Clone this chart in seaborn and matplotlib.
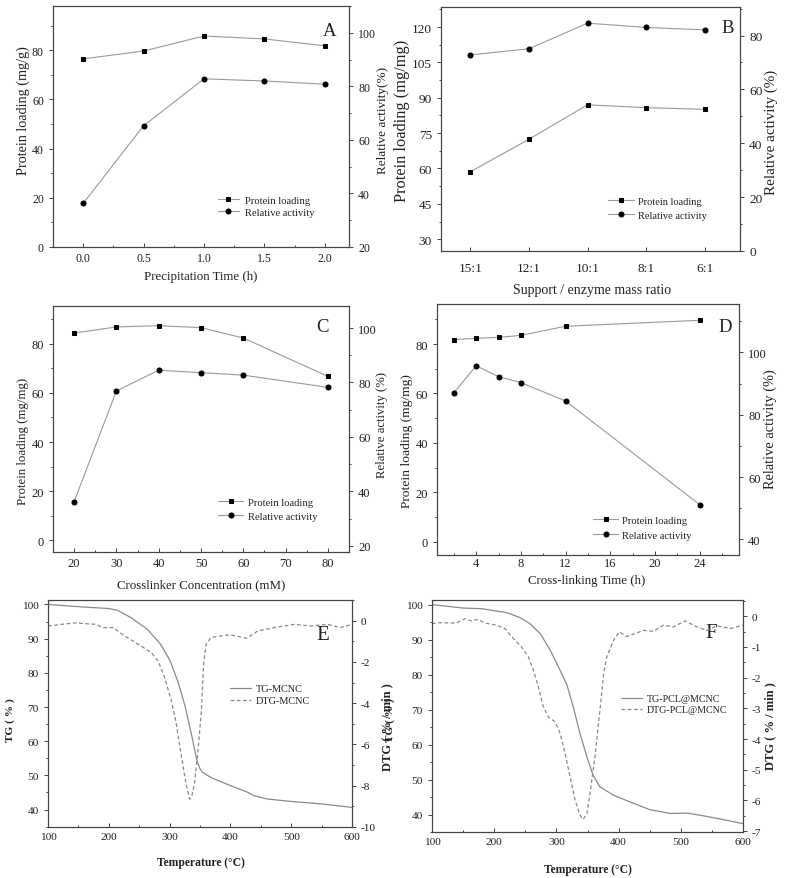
import numpy as np
import pandas as pd
import matplotlib
matplotlib.use('Agg')
import matplotlib.pyplot as plt
from matplotlib.ticker import MultipleLocator, AutoMinorLocator
import seaborn as sns

sns.set_style('ticks')
plt.rcParams['font.family'] = ['Liberation Serif', 'DejaVu Serif']
plt.rcParams['axes.unicode_minus'] = False

# ---------------- data ----------------
# A - precipitation time
precip_time = [0.0, 0.5, 1.0, 1.5, 2.0]
precip_loading = [76.5, 79.7, 85.8, 84.6, 81.8]
precip_activity = [36.3, 65.3, 82.8, 82.0, 80.8]

# B - support / enzyme mass ratio
mass_ratio = ['15:1', '12:1', '10:1', '8:1', '6:1']
ratio_loading = [58.6, 72.4, 87.0, 85.8, 85.1]
ratio_activity = [72.8, 75.1, 84.6, 83.0, 82.1]

# C - crosslinker concentration
crosslinker_conc = [20, 30, 40, 50, 60, 80]
conc_loading = [84.3, 86.8, 87.3, 86.5, 82.3, 66.7]
conc_activity = [36.2, 76.9, 84.5, 83.6, 82.7, 78.2]

# D - cross-linking time
crosslink_time = [2, 4, 6, 8, 12, 24]
time_loading = [81.8, 82.3, 82.7, 83.5, 87.2, 89.6]
time_activity = [87.0, 95.7, 92.2, 90.3, 84.4, 51.1]

# E - TG / DTG of MCNC
tg_mcnc_t = [100, 154, 200, 214, 236, 263, 285, 301, 315, 326, 337, 345, 350,
             354, 367, 373, 400, 428, 438, 460, 498, 547, 597, 600]
tg_mcnc = [100, 99.3, 98.8, 98.3, 96.2, 92.8, 88.4, 83.5, 76.7, 69.9, 61.1, 54.3, 51.9,
           50.9, 49.5, 49.0, 47.0, 45.1, 44.1, 43.1, 42.4, 41.7, 40.7, 40.6]
dtg_mcnc_t = [100, 122, 144, 179, 190, 207, 226, 253, 270, 281, 292, 303, 311, 319,
              327, 333, 336, 341, 346, 352, 356, 360, 368, 390, 400, 427, 445, 472,
              505, 532, 560, 581, 600]
dtg_mcnc = [-0.26, -0.18, -0.11, -0.18, -0.34, -0.34, -0.74, -1.23, -1.55, -1.95, -2.76,
            -3.9, -5.0, -6.5, -7.9, -8.65, -8.56, -7.9, -6.5, -4.5, -2.1, -1.15, -0.82,
            -0.71, -0.69, -0.85, -0.5, -0.34, -0.18, -0.26, -0.18, -0.34, -0.18]

# F - TG / DTG of PCL@MCNC
tg_pcl_t = [100, 150, 180, 220, 241, 257, 274, 290, 306, 317, 327, 338, 349, 359,
            370, 392, 420, 450, 483, 510, 531, 558, 600]
tg_pcl = [100, 99.0, 98.8, 97.7, 96.3, 94.6, 91.7, 87.0, 81.2, 77.0, 70.8, 63.1, 56.5,
          51.2, 47.9, 45.5, 43.5, 41.4, 40.3, 40.4, 39.8, 38.9, 37.4]
dtg_pcl_t = [100, 112, 139, 153, 163, 174, 185, 204, 217, 231, 244, 255, 263, 271,
             279, 287, 298, 306, 314, 322, 330, 338, 343, 349, 354, 362, 370, 376,
             381, 392, 401, 413, 427, 440, 456, 472, 488, 507, 526, 542, 558, 580, 600]
dtg_pcl = [-0.24, -0.21, -0.22, -0.08, -0.15, -0.10, -0.22, -0.29, -0.40, -0.73, -1.0,
           -1.32, -1.76, -2.3, -2.95, -3.28, -3.44, -3.82, -4.47, -5.23, -5.99, -6.48,
           -6.62, -6.43, -5.78, -4.58, -3.06, -1.87, -1.32, -0.78, -0.51, -0.66, -0.56,
           -0.46, -0.49, -0.29, -0.35, -0.15, -0.35, -0.46, -0.31, -0.40, -0.29]

# ---------------- figure ----------------
W, H = 787, 879
fig = plt.figure(figsize=(W / 100, H / 100), dpi=100)

TXT = '#222222'
LINE = '#9a9a9a'
SPINE = '#444444'


def px_axes(l, t, r, b):
    return fig.add_axes([l / W, 1 - b / H, (r - l) / W, (b - t) / H])


def style(ax, ax2, tick_size):
    for a in (ax, ax2):
        for s in a.spines.values():
            s.set_color(SPINE)
            s.set_linewidth(0.8)
        a.tick_params(axis='x', which='both', direction='in', colors=SPINE,
                      labelcolor=TXT, labelsize=tick_size, width=0.7)
        a.tick_params(axis='y', which='both', direction='out', colors=SPINE,
                      labelcolor=TXT, labelsize=tick_size, width=0.7)
        a.tick_params(which='major', length=3)
        a.tick_params(which='minor', length=1.6)
        a.yaxis.set_minor_locator(AutoMinorLocator(2))
        if a.get_legend():
            a.get_legend().remove()


def labels(ax, ax2, xl, yl, yr, sizes, xpos, ypos_l, ypos_r, weight='normal'):
    ax.set_xlabel(xl, fontsize=sizes[0], color=TXT, fontweight=weight)
    ax.set_ylabel(yl, fontsize=sizes[1], color=TXT, fontweight=weight)
    ax2.set_ylabel(yr, fontsize=sizes[2], color=TXT, fontweight=weight)
    ax.xaxis.set_label_coords(*xpos)
    ax.yaxis.set_label_coords(*ypos_l)
    ax2.yaxis.set_label_coords(*ypos_r)
    for lab in (ax.xaxis.label, ax.yaxis.label, ax2.yaxis.label):
        lab.set_verticalalignment('center')


def legend(ax, ax2, anchor, size, hl, htp, ls):
    h1, l1 = ax.get_legend_handles_labels()
    h2, l2 = ax2.get_legend_handles_labels()
    leg = ax2.legend(h1 + h2, l1 + l2, loc='center left', bbox_to_anchor=anchor,
                     frameon=False, fontsize=size, handlelength=hl, handletextpad=htp,
                     labelspacing=ls, borderpad=0, borderaxespad=0)
    for t in leg.get_texts():
        t.set_color(TXT)


mk_sq = dict(marker='s', markersize=3.4, markerfacecolor='black', markeredgecolor='black')
mk_ci = dict(marker='o', markersize=3.6, markerfacecolor='black', markeredgecolor='black')

# ---- A ----
ax = px_axes(53, 7, 349, 248)
ax2 = ax.twinx()
sns.lineplot(x=precip_time, y=precip_loading, ax=ax, color=LINE, lw=0.8,
             label='Protein loading', **mk_sq)
sns.lineplot(x=precip_time, y=precip_activity, ax=ax2, color=LINE, lw=0.8,
             label='Relative activity', **mk_ci)
ax.set_xlim(-0.25, 2.2)
ax.set_ylim(0, 98)
ax2.set_ylim(20, 110)
ax.xaxis.set_major_locator(MultipleLocator(0.5))
ax.xaxis.set_minor_locator(AutoMinorLocator(2))
ax.set_xticklabels([f'{v:.1f}' for v in ax.get_xticks()])
ax.yaxis.set_major_locator(MultipleLocator(20))
ax2.yaxis.set_major_locator(MultipleLocator(20))
style(ax, ax2, 8.6)
labels(ax, ax2, 'Precipitation Time (h)', 'Protein loading (mg/g)', 'Relative activity(%)',
       (9.3, 10.2, 9.5), (0.5, -0.119), (-0.1, 0.57), (1.115, 0.53))
legend(ax, ax2, (0.557, 0.170), 7.6, 2.0, 0.6, 0.25)
ax.text(0.936, 0.90, 'A', transform=ax.transAxes, fontsize=13.5, color=TXT,
        ha='center', va='center')

# ---- B ----
ax = px_axes(441, 8, 740, 252)
ax2 = ax.twinx()
sns.lineplot(x=mass_ratio, y=ratio_loading, ax=ax, color=LINE, lw=0.8, sort=False,
             label='Protein loading', **mk_sq)
sns.lineplot(x=mass_ratio, y=ratio_activity, ax=ax2, color=LINE, lw=0.8, sort=False,
             label='Relative activity', **mk_ci)
ax.set_xlim(-0.5, 4.6)
ax.set_ylim(25, 128.5)
ax2.set_ylim(0, 90.6)
ax.yaxis.set_major_locator(MultipleLocator(15))
ax2.yaxis.set_major_locator(MultipleLocator(20))
style(ax, ax2, 9.6)
ax.xaxis.set_minor_locator(plt.NullLocator())
ax.tick_params(axis='x', pad=8)
labels(ax, ax2, 'Support / enzyme mass ratio', 'Protein loading (mg/mg)', 'Relative activity (%)',
       (10, 11.8, 10.8), (0.504, -0.156), (-0.13, 0.537), (1.103, 0.49))
legend(ax, ax2, (0.559, 0.175), 7.5, 2.5, 0.35, 0.45)
ax.text(0.959, 0.917, 'B', transform=ax.transAxes, fontsize=13.5, color=TXT,
        ha='center', va='center')

# ---- C ----
ax = px_axes(53, 307, 349, 553)
ax2 = ax.twinx()
sns.lineplot(x=crosslinker_conc, y=conc_loading, ax=ax, color=LINE, lw=0.8,
             label='Protein loading', **mk_sq)
sns.lineplot(x=crosslinker_conc, y=conc_activity, ax=ax2, color=LINE, lw=0.8,
             label='Relative activity', **mk_ci)
ax.set_xlim(15, 85)
ax.set_ylim(-4.7, 95.3)
ax2.set_ylim(17.7, 108.1)
ax.xaxis.set_major_locator(MultipleLocator(10))
ax.xaxis.set_minor_locator(AutoMinorLocator(2))
ax.yaxis.set_major_locator(MultipleLocator(20))
ax2.yaxis.set_major_locator(MultipleLocator(20))
style(ax, ax2, 9)
labels(ax, ax2, 'Crosslinker Concentration (mM)', 'Protein loading (mg/mg)', 'Relative activity (%)',
       (9.3, 9.3, 9.2), (0.5, -0.13), (-0.101, 0.452), (1.111, 0.52))
legend(ax, ax2, (0.557, 0.174), 7.6, 2.4, 0.5, 0.4)
ax.text(0.912, 0.915, 'C', transform=ax.transAxes, fontsize=13.5, color=TXT,
        ha='center', va='center')

# ---- D ----
ax = px_axes(437, 305, 739, 556)
ax2 = ax.twinx()
sns.lineplot(x=crosslink_time, y=time_loading, ax=ax, color=LINE, lw=0.8,
             label='Protein loading', **mk_sq)
sns.lineplot(x=crosslink_time, y=time_activity, ax=ax2, color=LINE, lw=0.8,
             label='Relative activity', **mk_ci)
ax.set_xlim(0.5, 27.5)
ax.set_ylim(-5.4, 96.2)
ax2.set_ylim(35, 115.5)
ax.xaxis.set_major_locator(MultipleLocator(4))
ax.xaxis.set_minor_locator(AutoMinorLocator(2))
ax.yaxis.set_major_locator(MultipleLocator(20))
ax2.yaxis.set_major_locator(MultipleLocator(20))
style(ax, ax2, 9)
ax.tick_params(axis='x', pad=1.5)
labels(ax, ax2, 'Cross-linking Time (h)', 'Protein loading (mg/mg)', 'Relative activity (%)',
       (9.3, 9.7, 10.4), (0.496, -0.1), (-0.099, 0.459), (1.103, 0.506))
legend(ax, ax2, (0.517, 0.109), 7.6, 2.4, 0.3, 0.55)
ax.text(0.954, 0.912, 'D', transform=ax.transAxes, fontsize=13.5, color=TXT,
        ha='center', va='center')

# ---- E ----
ax = px_axes(48, 601, 352, 828)
ax2 = ax.twinx()
sns.lineplot(x=tg_mcnc_t, y=tg_mcnc, ax=ax, color='#8a8a8a', lw=0.9, label='TG-MCNC')
sns.lineplot(x=dtg_mcnc_t, y=dtg_mcnc, ax=ax2, color='#8a8a8a', lw=0.9,
             linestyle=(0, (3, 2)), label='DTG-MCNC')
ax.set_xlim(100, 600)
ax.set_ylim(34.9, 101.3)
ax2.set_ylim(-10, 1)
ax.xaxis.set_major_locator(MultipleLocator(100))
ax.xaxis.set_minor_locator(AutoMinorLocator(2))
ax.yaxis.set_major_locator(MultipleLocator(10))
ax2.yaxis.set_major_locator(MultipleLocator(2))
style(ax, ax2, 8.2)
labels(ax, ax2, 'Temperature (°C)', 'TG ( % )', 'DTG ( % / min )',
       (8.4, 8.2, 9), (0.502, -0.154), (-0.125, 0.477), (1.115, 0.446), weight='bold')
legend(ax, ax2, (0.599, 0.583), 7.4, 2.0, 0.5, 0.3)
ax.text(0.904, 0.846, 'E', transform=ax.transAxes, fontsize=15, color=TXT,
        ha='center', va='center')

# ---- F ----
ax = px_axes(432, 601, 743, 833)
ax2 = ax.twinx()
sns.lineplot(x=tg_pcl_t, y=tg_pcl, ax=ax, color='#8a8a8a', lw=0.9, label='TG-PCL@MCNC')
sns.lineplot(x=dtg_pcl_t, y=dtg_pcl, ax=ax2, color='#8a8a8a', lw=0.9,
             linestyle=(0, (3, 2)), label='DTG-PCL@MCNC')
ax.set_xlim(100, 600)
ax.set_ylim(35, 101.3)
ax2.set_ylim(-7.03, 0.53)
ax.xaxis.set_major_locator(MultipleLocator(100))
ax.xaxis.set_minor_locator(AutoMinorLocator(2))
ax.yaxis.set_major_locator(MultipleLocator(10))
ax2.yaxis.set_major_locator(MultipleLocator(1))
style(ax, ax2, 8.2)
labels(ax, ax2, 'Temperature (°C)', 'TG ( % )', 'DTG ( % / min )',
       (8.4, 8.2, 9), (0.503, -0.159), (-0.135, 0.488), (1.087, 0.462), weight='bold')
legend(ax, ax2, (0.608, 0.55), 7.2, 2.1, 0.5, 0.2)
ax.text(0.899, 0.858, 'F', transform=ax.transAxes, fontsize=15, color=TXT,
        ha='center', va='center')

fig.savefig('out.png', dpi=100)
